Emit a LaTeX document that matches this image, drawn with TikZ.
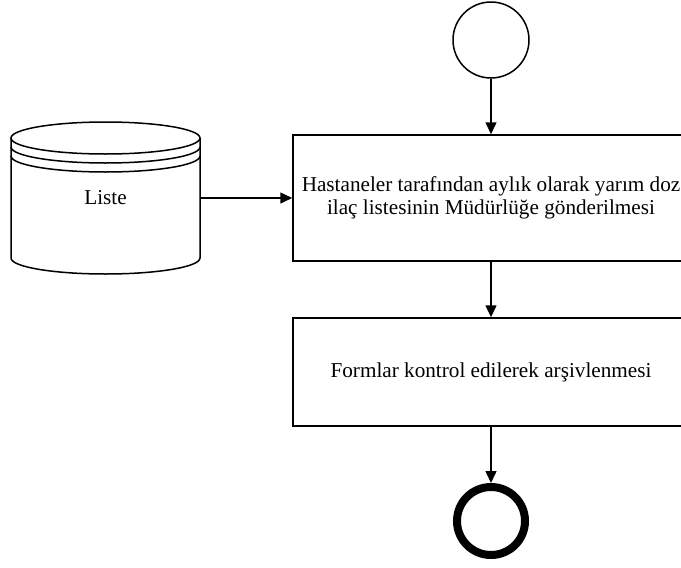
\documentclass[tikz,border=0pt]{standalone}
\usepackage{fontspec}
\setmainfont{Liberation Serif}
\usetikzlibrary{arrows.meta}
\begin{document}
\begin{tikzpicture}[x=1pt,y=-1pt,
  line/.style={line width=1.5pt,draw=black},
  conn/.style={line,-{Triangle[length=12pt,width=11pt]}},
  proc/.style={line,rectangle,minimum width=396pt,inner sep=0pt,align=center,
    font=\fontsize{21.2pt}{23pt}\selectfont},
  txt/.style={font=\fontsize{21.2pt}{23pt}\selectfont,inner sep=0pt}]
\useasboundingbox (0,0) rectangle (681,568);
\fill[white] (0,0) rectangle (681,568);
% start
\node[line,circle,minimum size=76pt,inner sep=0pt] (start) at (491,40) {};
% boxes
\node[proc,minimum height=126pt] (b1) at (491,198)
  {Hastaneler tarafından aylık olarak yarım doz\\ilaç listesinin Müdürlüğe gönderilmesi};
\node[proc,minimum height=108pt] (b2) at (491,372)
  {\raisebox{-7pt}{Formlar kontrol edilerek arşivlenmesi}};
% end
\node[circle,draw=black,line width=8pt,minimum size=68pt,inner sep=0pt,outer sep=4pt] (end) at (491,521) {};
% cylinder (data store)
\draw[line,fill=white] (11,138) -- (11,258) arc[start angle=180,end angle=0,x radius=94.5,y radius=16] -- (200,138);
\draw[line] (105.5,138) ellipse[x radius=94.5,y radius=16];
\draw[line] (11,147) arc[start angle=180,end angle=0,x radius=94.5,y radius=16];
\draw[line] (11,156) arc[start angle=180,end angle=0,x radius=94.5,y radius=16];
\node[txt,minimum width=189pt] (liste) at (105.5,198) {Liste};
% connectors
\draw[conn] (start.south) -- (b1.north);
\draw[conn] (liste.east) -- (b1.west);
\draw[conn] (b1.south) -- (b2.north);
\draw[conn] (b2.south) -- (end.north);
\end{tikzpicture}
\end{document}
